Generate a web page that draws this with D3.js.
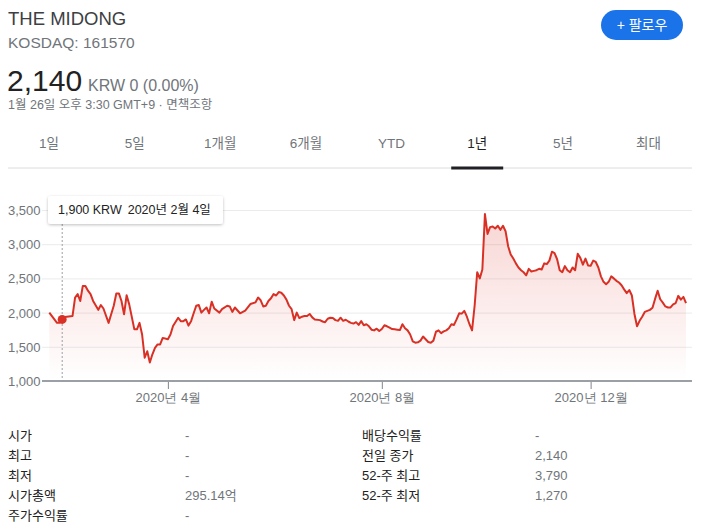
<!DOCTYPE html>
<html><head><meta charset="utf-8">
<script src="https://cdn.jsdelivr.net/npm/d3@7"></script>
<style>
html,body{margin:0;padding:0;background:#fff;}
svg{display:block;font-family:Arial,"Liberation Sans","Noto Sans CJK KR",sans-serif;}
</style></head>
<body>
<svg id="c" width="711" height="530"></svg>
<script>
// ---- data ----
const tradingDay = [0,3,4,5,6,9,10,11,12,13,14,15,16,17,19,20,21,23,24,25,26,27,28,29,30,31,33,34,35,36,37,38,39,40,41,42,43,44,46,47,48,50,51,52,53,54,55,
56,57,58,59,60,61,62,63,64,66,67,69,70,71,72,74,76,78,80,81,82,83,84,85,86,87,88,89,90,91,92,93,94,95,96,97,98,99,100,101,102,103,105,106,107,108,109,110,111,112,113,114,115,116,117,118,119,120,121,122,123,124,125,126,127,128,129,130,131,132,133,134,135,136,137,138,139,140,141,142,143,144,145,146,147,148,149,150,151,152,153,154,155,156,157,158,159,160,161,162,163,164,165,166,167,168,169,170,171,172,173,174,175,176,177,178,179,180,181,182,183,184,185,186,187,188,189,190,191,192,193,194,195,196,197,198,199,200,201,202,203,204,205,206,207,208,209,210,211,212,213,214,215,216,217,218,219,220,221,222,223,224,225,226,227,228,229,230,231,232,233,234,235,236,237,238,239,240,241,242,243,244,245,246,247];
const price = [2000,1850,1850,1900,1935,1950,2220,2270,2170,2390,2390,2320,2270,2170,2040,2110,2060,1850,1975,2100,2280,2280,2170,1975,2255,2120,1755,1755,1850,1680,1340,1435,1270,1390,1485,1535,1535,1630,1610,1680,1805,1925,1875,1875,1900,1810,1875,
1990,2100,2110,2000,2040,2075,1990,2160,2060,2000,2050,2100,2090,2010,2075,1990,2030,2125,2150,2220,2180,2090,2100,2170,2210,2270,2250,2300,2290,2250,2190,2100,2050,1890,2000,1920,1940,1950,1950,1980,1930,1900,1890,1870,1860,1910,1925,1920,1890,1880,1925,1880,1895,1870,1850,1840,1860,1820,1875,1815,1830,1800,1750,1740,1765,1730,1760,1815,1800,1780,1760,1755,1750,1745,1830,1770,1740,1680,1580,1560,1565,1590,1650,1610,1570,1560,1590,1720,1740,1700,1725,1740,1770,1830,1820,1900,1990,1985,2025,1940,1830,1740,2100,2590,2500,2630,3440,3150,3250,3260,3230,3270,3210,3270,3190,2970,2850,2790,2720,2660,2620,2590,2545,2640,2600,2610,2620,2640,2630,2720,2710,2760,2890,2870,2780,2620,2590,2680,2620,2590,2660,2620,2860,2800,2700,2790,2690,2685,2760,2740,2660,2530,2450,2415,2450,2530,2500,2465,2440,2400,2340,2285,2330,2250,1980,1800,1880,1940,2010,2025,2040,2070,2200,2320,2195,2145,2090,2075,2075,2120,2140,2245,2190,2230,2140];
const yTicks = [1000,1500,2000,2500,3000,3500];
const xTickDays = [46,129,210];
const xTickLabels = ["2020년 4월","2020년 8월","2020년 12월"];
const tabs = ["1일","5일","1개월","6개월","YTD","1년","5년","최대"];
const activeTab = "1년";
const tooltipDay = 5;
const tooltipDate = "2020년 2월 4일";
const statLabelsL = ["시가","최고","최저","시가총액","주가수익률"];
const statValuesL = ["-","-","-","295.14억","-"];
const statLabelsR = ["배당수익률","전일 종가","52-주 최고","52-주 최저"];
const statValuesR = ["-","2,140","3,790","1,270"];

const svg = d3.select("#c");
const gray = "#70757a", dark = "#222";

// ---- header ----
svg.append("text").attr("x",8).attr("y",25).attr("font-size",18.5).attr("fill","#3c4043").text("THE MIDONG");
svg.append("text").attr("x",8).attr("y",48).attr("font-size",15.5).attr("fill",gray).text("KOSDAQ: 161570");
svg.append("text").attr("x",7).attr("y",91).attr("font-size",30).attr("fill",dark).text("2,140");
svg.append("text").attr("x",88).attr("y",91).attr("font-size",16).attr("fill",gray).text("KRW 0 (0.00%)");
svg.append("text").attr("x",8).attr("y",109).attr("font-size",12.5).attr("fill",gray).text("1월 26일 오후 3:30 GMT+9 · 면책조항");

// follow button
svg.append("rect").attr("x",601).attr("y",10).attr("width",82).attr("height",30).attr("rx",15).attr("fill","#1a73e8");
svg.append("text").attr("x",642).attr("y",30).attr("text-anchor","middle").attr("font-size",14).attr("fill","#fff").text("+  팔로우");

// ---- tabs ----
const tabX = d3.scalePoint().domain(tabs).range([49,648.5]);
svg.append("line").attr("x1",8).attr("x2",692).attr("y1",168).attr("y2",168).attr("stroke","#dadce0");
svg.selectAll(".tab").data(tabs).join("text")
  .attr("x",d=>tabX(d)).attr("y",148).attr("text-anchor","middle").attr("font-size",13.5)
  .attr("fill",d=>d===activeTab?dark:gray).text(d=>d);
svg.append("rect").attr("x",tabX(activeTab)-26).attr("y",166.5).attr("width",52).attr("height",3).attr("fill","#202124");

// ---- chart ----
const x = d3.scaleLinear().domain([0,247]).range([49.3,686]);
const y = d3.scaleLinear().domain([1000,3500]).range([381,210]);
const gx0 = 42, gx1 = 692;

const defs = svg.append("defs");
const grad = defs.append("linearGradient").attr("id","ag").attr("x1",0).attr("x2",0).attr("y1",0).attr("y2",1);
grad.append("stop").attr("offset","0%").attr("stop-color","#d93025").attr("stop-opacity",0.2);
grad.append("stop").attr("offset","100%").attr("stop-color","#d93025").attr("stop-opacity",0);

// grid + y labels
const yAxis = svg.append("g").attr("transform",`translate(${gx0},0)`)
  .call(d3.axisLeft(y).tickValues(yTicks).tickSize(-(gx1-gx0)).tickFormat(d3.format(",")));
yAxis.select(".domain").remove();
yAxis.selectAll(".tick line").attr("stroke","#ebebeb");
yAxis.selectAll(".tick text").attr("x",-34).attr("text-anchor","start").attr("font-size",13)
  .attr("fill",gray).attr("font-family",null).attr("dy","0.35em");

const pts = tradingDay.map((d,i)=>({d, v:price[i]}));
const area = d3.area().x(p=>x(p.d)).y0(y(1000)).y1(p=>y(p.v));
const line = d3.line().x(p=>x(p.d)).y(p=>y(p.v));
svg.append("path").datum(pts).attr("d",area).attr("fill","url(#ag)");
svg.append("path").datum(pts).attr("d",line).attr("fill","none").attr("stroke","#d93025").attr("stroke-width",2).attr("stroke-linejoin","round");

// x axis
const xAxis = svg.append("g").attr("transform",`translate(0,${y(1000)})`)
  .call(d3.axisBottom(x).tickValues(xTickDays).tickSize(8).tickFormat((d,i)=>xTickLabels[i]));
xAxis.select(".domain").remove();
xAxis.selectAll(".tick line").attr("stroke","#80868b");
xAxis.selectAll(".tick text").attr("font-size",13).attr("fill",gray).attr("font-family",null).attr("y",12);
svg.append("line").attr("x1",gx0).attr("x2",gx1).attr("y1",y(1000)).attr("y2",y(1000)).attr("stroke","#9aa0a6").attr("stroke-width",2);

// tooltip
const tv = price[tradingDay.indexOf(tooltipDay)];
svg.append("line").attr("x1",x(tooltipDay)).attr("x2",x(tooltipDay)).attr("y1",224).attr("y2",y(1000))
  .attr("stroke","#9aa0a6").attr("stroke-dasharray","2,2");
svg.append("circle").attr("cx",x(tooltipDay)).attr("cy",y(tv)).attr("r",4.5).attr("fill","#d93025");
const tf = defs.append("filter").attr("id","sh").attr("x","-10%").attr("y","-30%").attr("width","120%").attr("height","160%");
tf.append("feDropShadow").attr("dx",0).attr("dy",1).attr("stdDeviation",1.5).attr("flood-color","#000").attr("flood-opacity",0.25);
svg.append("rect").attr("x",48).attr("y",196).attr("width",175).attr("height",28).attr("rx",3).attr("fill","#fff").attr("filter","url(#sh)");
const tt = svg.append("text").attr("x",58).attr("y",214).attr("font-size",12.5).attr("fill",dark);
tt.append("tspan").text(d3.format(",")(tv)+" KRW");
tt.append("tspan").attr("dx",6).text(tooltipDate);

// ---- stats table ----
const rowY = d3.scaleLinear().domain([0,1]).range([440,460]);
svg.selectAll(".sl").data(statLabelsL).join("text").attr("x",8).attr("y",(d,i)=>rowY(i)).attr("font-size",13).attr("fill",dark).text(d=>d);
svg.selectAll(".sv").data(statValuesL).join("text").attr("x",185).attr("y",(d,i)=>rowY(i)).attr("font-size",13).attr("fill",gray).text(d=>d);
svg.selectAll(".rl").data(statLabelsR).join("text").attr("x",362).attr("y",(d,i)=>rowY(i)).attr("font-size",13).attr("fill",dark).text(d=>d);
svg.selectAll(".rv").data(statValuesR).join("text").attr("x",535).attr("y",(d,i)=>rowY(i)).attr("font-size",13).attr("fill",gray).text(d=>d);
</script>
</body></html>
